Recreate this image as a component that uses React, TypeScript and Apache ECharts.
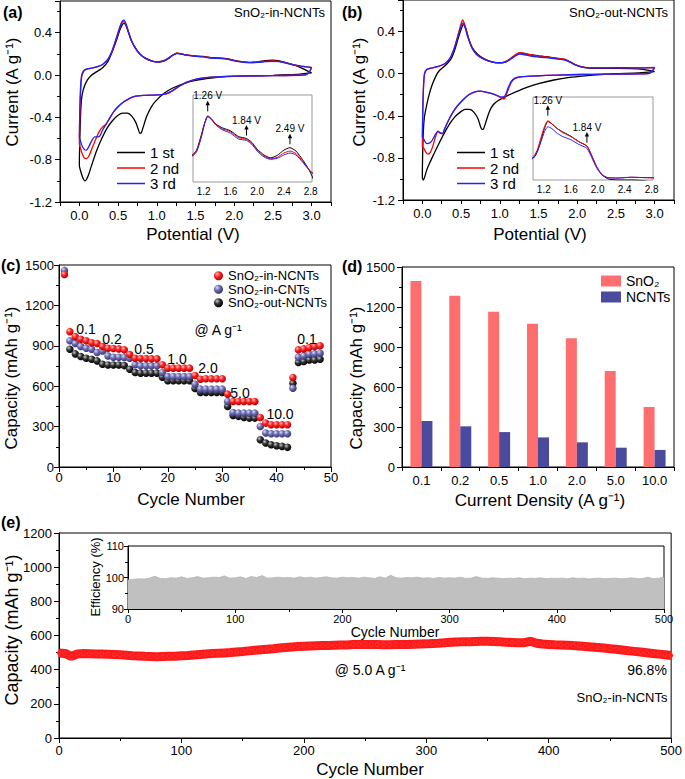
import React, { useEffect, useRef } from "react";
import * as echarts from "echarts";

const FONT = '"Liberation Sans", Arial, Helvetica, sans-serif';

// ---------- (a) CV curves, SnO2-in-NCNTs: [potential (V), current (A/g)] ----------
const cvA1st: number[][] = [
  [3.0, 0.02], [2.8, 0.005], [2.5, -0.003], [2.2, -0.008], [1.9, -0.015], [1.7, -0.028], [1.5, -0.05],
  [1.35, -0.08], [1.2, -0.125], [1.1, -0.17], [1.0, -0.235], [0.93, -0.3], [0.87, -0.39], [0.83, -0.48],
  [0.8, -0.545], [0.78, -0.55], [0.76, -0.51], [0.73, -0.45], [0.68, -0.39], [0.62, -0.36], [0.56, -0.36],
  [0.5, -0.38], [0.43, -0.43], [0.36, -0.5], [0.29, -0.6], [0.22, -0.72], [0.16, -0.85], [0.12, -0.94],
  [0.09, -0.99], [0.07, -1.0], [0.05, -0.98], [0.03, -0.94], [0.01, -0.89], [0.0, -0.86],
  [0.01, -0.5], [0.025, -0.25], [0.05, -0.14], [0.1, -0.05], [0.16, 0.0], [0.22, 0.03], [0.3, 0.07],
  [0.37, 0.13], [0.43, 0.23], [0.48, 0.33], [0.52, 0.42], [0.55, 0.47], [0.575, 0.49], [0.6, 0.47],
  [0.63, 0.41], [0.67, 0.33], [0.72, 0.26], [0.78, 0.2], [0.85, 0.16], [0.93, 0.135], [1.0, 0.125],
  [1.05, 0.128], [1.1, 0.138], [1.16, 0.165], [1.21, 0.19], [1.26, 0.206], [1.31, 0.201], [1.38, 0.19],
  [1.48, 0.182], [1.6, 0.176], [1.72, 0.164], [1.84, 0.16], [1.92, 0.152], [2.0, 0.138], [2.1, 0.126],
  [2.2, 0.12], [2.3, 0.125], [2.4, 0.136], [2.49, 0.141], [2.58, 0.134], [2.68, 0.116], [2.78, 0.094],
  [2.86, 0.07], [2.93, 0.045], [3.0, 0.02],
];
const cvA2nd: number[][] = [
  [3.0, 0.07], [2.97, 0.03], [2.93, 0.005], [2.8, -0.002], [2.5, -0.005], [2.2, -0.008], [1.9, -0.012],
  [1.7, -0.02], [1.5, -0.04], [1.38, -0.07], [1.28, -0.11], [1.2, -0.15], [1.12, -0.178], [1.03, -0.187],
  [0.93, -0.19], [0.83, -0.193], [0.73, -0.2], [0.65, -0.22], [0.57, -0.255], [0.5, -0.3], [0.44, -0.35],
  [0.39, -0.41], [0.34, -0.47], [0.3, -0.49], [0.26, -0.53], [0.21, -0.61], [0.16, -0.7], [0.12, -0.77],
  [0.09, -0.79], [0.06, -0.78], [0.03, -0.73], [0.01, -0.68], [0.0, -0.65],
  [0.005, -0.42], [0.015, -0.18], [0.03, -0.02], [0.06, 0.04], [0.1, 0.055], [0.16, 0.065], [0.22, 0.075],
  [0.3, 0.1], [0.37, 0.15], [0.43, 0.24], [0.48, 0.35], [0.52, 0.44], [0.55, 0.495], [0.575, 0.51],
  [0.6, 0.48], [0.63, 0.42], [0.67, 0.33], [0.72, 0.26], [0.78, 0.2], [0.85, 0.16], [0.93, 0.135],
  [1.0, 0.125], [1.05, 0.127], [1.1, 0.137], [1.16, 0.163], [1.21, 0.19], [1.26, 0.207], [1.31, 0.202],
  [1.38, 0.19], [1.48, 0.18], [1.6, 0.174], [1.72, 0.162], [1.84, 0.158], [1.92, 0.15], [2.0, 0.136],
  [2.1, 0.124], [2.2, 0.118], [2.3, 0.121], [2.4, 0.13], [2.49, 0.134], [2.58, 0.129], [2.68, 0.113],
  [2.78, 0.095], [2.86, 0.085], [2.93, 0.078], [3.0, 0.07],
];
const cvA3rd: number[][] = [
  [3.0, 0.072], [2.97, 0.03], [2.93, 0.005], [2.8, -0.002], [2.5, -0.005], [2.2, -0.008], [1.9, -0.012],
  [1.7, -0.02], [1.5, -0.04], [1.38, -0.07], [1.28, -0.11], [1.2, -0.15], [1.12, -0.178], [1.03, -0.187],
  [0.93, -0.19], [0.83, -0.193], [0.73, -0.2], [0.65, -0.22], [0.57, -0.255], [0.5, -0.3], [0.44, -0.35],
  [0.39, -0.41], [0.34, -0.47], [0.3, -0.52], [0.27, -0.57], [0.24, -0.585], [0.2, -0.585], [0.16, -0.62],
  [0.12, -0.68], [0.09, -0.71], [0.06, -0.7], [0.03, -0.66], [0.01, -0.61], [0.0, -0.59],
  [0.005, -0.35], [0.015, -0.12], [0.03, 0.0], [0.06, 0.045], [0.1, 0.058], [0.16, 0.066], [0.22, 0.077],
  [0.3, 0.1], [0.37, 0.15], [0.43, 0.245], [0.48, 0.355], [0.52, 0.45], [0.55, 0.505], [0.575, 0.52],
  [0.6, 0.49], [0.63, 0.42], [0.67, 0.33], [0.72, 0.26], [0.78, 0.2], [0.85, 0.16], [0.93, 0.133],
  [1.0, 0.123], [1.05, 0.125], [1.1, 0.134], [1.16, 0.16], [1.21, 0.188], [1.26, 0.205], [1.31, 0.2],
  [1.38, 0.188], [1.48, 0.178], [1.6, 0.171], [1.72, 0.159], [1.84, 0.156], [1.92, 0.148], [2.0, 0.134],
  [2.1, 0.122], [2.2, 0.117], [2.3, 0.119], [2.4, 0.126], [2.49, 0.13], [2.58, 0.126], [2.68, 0.111],
  [2.78, 0.094], [2.86, 0.085], [2.93, 0.078], [3.0, 0.072],
];

// ---------- (b) CV curves, SnO2-out-NCNTs ----------
const cvB1st: number[][] = [
  [3.0, 0.02], [2.8, 0.008], [2.5, 0.0], [2.3, -0.008], [2.1, -0.02], [1.9, -0.035], [1.7, -0.06],
  [1.5, -0.095], [1.35, -0.13], [1.2, -0.175], [1.08, -0.215], [0.98, -0.255], [0.91, -0.3], [0.86, -0.37],
  [0.82, -0.46], [0.79, -0.525], [0.77, -0.53], [0.75, -0.5], [0.72, -0.43], [0.67, -0.37], [0.61, -0.34],
  [0.55, -0.34], [0.49, -0.365], [0.42, -0.41], [0.35, -0.48], [0.28, -0.57], [0.21, -0.67], [0.15, -0.76],
  [0.1, -0.84], [0.07, -0.89], [0.05, -0.93], [0.03, -0.98], [0.015, -1.01], [0.0, -0.99],
  [0.01, -0.6], [0.025, -0.42], [0.05, -0.32], [0.08, -0.22], [0.12, -0.12], [0.17, -0.03], [0.22, 0.03],
  [0.3, 0.08], [0.37, 0.14], [0.42, 0.23], [0.46, 0.33], [0.5, 0.42], [0.53, 0.47], [0.56, 0.43],
  [0.6, 0.33], [0.65, 0.24], [0.72, 0.18], [0.8, 0.14], [0.9, 0.112], [1.0, 0.103], [1.07, 0.11],
  [1.14, 0.14], [1.2, 0.175], [1.26, 0.198], [1.32, 0.192], [1.4, 0.18], [1.5, 0.17], [1.6, 0.161],
  [1.72, 0.147], [1.84, 0.136], [1.91, 0.112], [1.98, 0.085], [2.06, 0.064], [2.15, 0.053], [2.3, 0.05],
  [2.5, 0.05], [2.7, 0.048], [2.85, 0.04], [3.0, 0.02],
];
const cvB2nd: number[][] = [
  [3.0, 0.055], [2.97, 0.025], [2.93, 0.003], [2.8, -0.002], [2.5, -0.004], [2.2, -0.006], [1.9, -0.01],
  [1.6, -0.017], [1.4, -0.023], [1.28, -0.03], [1.2, -0.045], [1.15, -0.08], [1.11, -0.15], [1.08, -0.21],
  [1.06, -0.24], [1.03, -0.235], [0.97, -0.21], [0.9, -0.19], [0.82, -0.175], [0.74, -0.165], [0.67, -0.175],
  [0.6, -0.2], [0.53, -0.245], [0.46, -0.3], [0.4, -0.36], [0.34, -0.44], [0.29, -0.52], [0.26, -0.57],
  [0.23, -0.565], [0.2, -0.55], [0.17, -0.6], [0.13, -0.7], [0.1, -0.75], [0.07, -0.765], [0.04, -0.74],
  [0.02, -0.71], [0.0, -0.69],
  [0.005, -0.4], [0.015, -0.13], [0.03, 0.0], [0.06, 0.04], [0.1, 0.05], [0.16, 0.06], [0.22, 0.072],
  [0.3, 0.1], [0.36, 0.15], [0.41, 0.24], [0.45, 0.34], [0.49, 0.45], [0.52, 0.51], [0.55, 0.46],
  [0.59, 0.35], [0.64, 0.25], [0.7, 0.185], [0.78, 0.145], [0.87, 0.118], [0.95, 0.105], [1.03, 0.106],
  [1.1, 0.125], [1.16, 0.158], [1.21, 0.185], [1.26, 0.2], [1.32, 0.192], [1.4, 0.18], [1.48, 0.17],
  [1.6, 0.16], [1.72, 0.147], [1.84, 0.136], [1.91, 0.112], [1.98, 0.085], [2.06, 0.064], [2.15, 0.056],
  [2.3, 0.055], [2.5, 0.057], [2.7, 0.056], [2.85, 0.055], [3.0, 0.055],
];
const cvB3rd: number[][] = [
  [3.0, 0.06], [2.97, 0.025], [2.93, 0.003], [2.8, -0.002], [2.5, -0.004], [2.2, -0.006], [1.9, -0.01],
  [1.6, -0.017], [1.4, -0.023], [1.28, -0.028], [1.2, -0.04], [1.15, -0.07], [1.11, -0.13], [1.08, -0.19],
  [1.05, -0.22], [1.01, -0.22], [0.96, -0.205], [0.9, -0.19], [0.82, -0.175], [0.74, -0.165], [0.67, -0.175],
  [0.6, -0.2], [0.53, -0.245], [0.46, -0.3], [0.4, -0.36], [0.34, -0.44], [0.29, -0.52], [0.26, -0.57],
  [0.23, -0.56], [0.2, -0.545], [0.17, -0.575], [0.13, -0.63], [0.1, -0.655], [0.06, -0.665], [0.03, -0.64],
  [0.01, -0.61], [0.0, -0.6],
  [0.005, -0.36], [0.015, -0.11], [0.03, 0.01], [0.06, 0.042], [0.1, 0.052], [0.16, 0.062], [0.22, 0.073],
  [0.3, 0.1], [0.36, 0.15], [0.41, 0.235], [0.45, 0.33], [0.49, 0.43], [0.52, 0.48], [0.55, 0.44],
  [0.59, 0.34], [0.64, 0.245], [0.7, 0.182], [0.78, 0.143], [0.87, 0.116], [0.95, 0.104], [1.03, 0.104],
  [1.1, 0.12], [1.16, 0.148], [1.21, 0.172], [1.26, 0.185], [1.32, 0.18], [1.4, 0.168], [1.48, 0.16],
  [1.6, 0.152], [1.72, 0.14], [1.84, 0.13], [1.91, 0.107], [1.98, 0.082], [2.06, 0.063], [2.15, 0.056],
  [2.3, 0.055], [2.5, 0.057], [2.7, 0.056], [2.85, 0.056], [3.0, 0.06],
];
const cvNames = ["1 st", "2 nd", "3 rd"];
const cvColors = ["#000000", "#ff0000", "#2222ff"];
const peaksA: [number, number, string][] = [[1.26, 0.21, "1.26 V"], [1.84, 0.16, "1.84 V"], [2.49, 0.142, "2.49 V"]];
const peaksB: [number, number, string][] = [[1.26, 0.205, "1.26 V"], [1.84, 0.137, "1.84 V"]];

// ---------- (c) rate capability ----------
const rateNames = ["SnO₂-in-NCNTs", "SnO₂-in-CNTs", "SnO₂-out-NCNTs"];
const rateInNCNTs = [1430, 1005, 968, 949, 937, 922, 917, 895, 882, 880, 877, 870, 835, 808, 806, 805, 803, 803,
  759, 734, 734, 734, 734, 734, 680, 652, 655, 655, 655, 655, 541, 487, 487, 487, 487, 487,
  368, 326, 314, 314, 314, 314, 665, 870, 877, 887, 894, 900];
const rateInCNTs = [1460, 937, 917, 895, 882, 875, 850, 862, 825, 815, 815, 813, 808, 759, 751, 751, 751, 751,
  702, 672, 672, 672, 672, 672, 615, 578, 578, 578, 578, 578, 487, 405, 400, 400, 400, 400,
  301, 252, 247, 247, 247, 247, 585, 815, 825, 838, 840, 845];
const rateOutNCNTs: (number | null)[] = [null, 875, 840, 820, 808, 800, 788, 763, 758, 758, 758, 753, 726, 702, 697, 697, 697, 697,
  667, 640, 640, 640, 640, 640, 583, 553, 553, 553, 553, 553, 450, 383, 376, 368, 363, 363,
  202, 178, 165, 158, 153, 146, 622, 776, 783, 795, 795, 800];
const rateStepLabels = ["0.1", "0.2", "0.5", "1.0", "2.0", "5.0", "10.0", "0.1"];

// ---------- (d) capacity contribution ----------
const densities = ["0.1", "0.2", "0.5", "1.0", "2.0", "5.0", "10.0"];
const capSnO2 = [1395, 1285, 1165, 1075, 965, 720, 450];
const capNCNTs = [345, 305, 262, 222, 185, 145, 128];

// ---------- (e) long cycling at 5.0 A/g (sampled every 5 cycles) ----------
const longCapacity = [
  498, 495, 478, 492, 494, 493, 492, 491, 490, 489,
  488, 485, 482, 480, 478, 477, 476, 477, 478, 479,
  481, 483, 486, 489, 492, 494, 496, 498, 500, 503,
  506, 510, 514, 517, 520, 523, 527, 530, 533, 535,
  537, 539, 540, 541, 542, 543, 544, 545, 547, 548,
  548, 547, 547, 546, 546, 547, 548, 548, 549, 550,
  551, 553, 555, 558, 560, 562, 563, 564, 565, 566,
  566, 565, 563, 561, 559, 557, 558, 566, 555, 550,
  548, 546, 545, 543, 541, 539, 536, 533, 530, 527,
  523, 519, 515, 511, 507, 503, 499, 495, 491, 487,
  483,
];
const efficiency = [
  99.2, 99.4, 99.6, 99.5, 99.8, 100.4, 99.7, 99.6, 99.9, 99.8,
  100.2, 99.7, 99.9, 100.3, 99.8, 99.9, 100.1, 100.0, 100.5, 99.8,
  99.9, 100.2, 99.7, 100.3, 100.0, 100.6, 99.8, 99.9, 100.1, 99.9,
  100.0, 99.8, 100.2, 99.9, 100.1, 99.8, 100.0, 100.2, 99.9, 99.8,
  100.1, 99.9, 100.0, 99.8, 100.1, 99.9, 99.7, 100.2, 99.8, 100.7,
  99.9, 99.8, 100.0, 99.9, 100.1, 99.8, 99.9, 99.7, 100.0, 99.8,
  99.9, 99.8, 100.1, 99.7, 99.8, 100.3, 99.8, 99.7, 99.9, 99.8,
  99.6, 99.8, 99.7, 99.9, 99.6, 99.8, 99.7, 99.9, 99.6, 99.8,
  99.7, 99.8, 99.6, 99.9, 99.7, 99.8, 99.5, 99.7, 99.8, 99.6,
  99.7, 99.8, 99.6, 99.7, 99.9, 99.6, 99.7, 100.1, 99.6, 99.8,
  100.0,
];
const LONG_STEP = 5;

// ---------------------------------------------------------------
const near = (v: number, step: number, base = 0) => {
  const k = (v - base) / step;
  return Math.abs(k - Math.round(k)) < 1e-4;
};
const plain = (v: number) => String(Math.round(v));

const lbl = (size: number, margin: number, extra: any = {}) => ({
  color: "#000", fontSize: size, fontFamily: FONT, margin, ...extra,
});

const baseAxis = (gridIndex: number, extra: any = {}) => ({
  gridIndex,
  type: "value",
  axisLine: { show: true, onZero: false, lineStyle: { color: "#000", width: 1 } },
  axisTick: { show: true, inside: false, length: 5, lineStyle: { color: "#000", width: 1 } },
  minorTick: { show: true, splitNumber: 2, length: 3, lineStyle: { color: "#000", width: 1 } },
  splitLine: { show: false },
  minorSplitLine: { show: false },
  axisLabel: lbl(13, 7, { formatter: plain }),
  ...extra,
});

const cvXAxis = (gi: number) =>
  baseAxis(gi, {
    min: -0.25, max: 3.25, interval: 0.25,
    minorTick: { show: false },
    axisTick: { show: true, length: 4, lineStyle: { color: "#000" } },
    axisLabel: lbl(13, 7, {
      formatter: (v: number) => (v > -0.01 && v < 3.01 && near(v, 0.5) ? v.toFixed(1) : ""),
    }),
  });
const cvYAxis = (gi: number) =>
  baseAxis(gi, {
    min: -1.2, max: 0.7, interval: 0.4,
    axisLabel: lbl(13, 8, {
      formatter: (v: number) => (v < 0.6 && near(v, 0.4) ? (Math.abs(v) < 1e-9 ? "0.0" : v.toFixed(1)) : ""),
    }),
  });
const insetXAxis = (gi: number) => ({
  gridIndex: gi, type: "value", min: 1.04, max: 2.82, interval: 0.02,
  axisLine: { show: false }, axisTick: { show: false }, splitLine: { show: false },
  axisLabel: lbl(10, 4, {
    formatter: (v: number) => (v > 1.1 && v < 2.81 && near(v, 0.4, 1.2) ? v.toFixed(1) : ""),
  }),
});
const insetYAxis = (gi: number, min: number, max: number) => ({
  gridIndex: gi, type: "value", min, max, show: false, splitLine: { show: false },
});

const radial = (hi: string, mid: string, lo: string) => ({
  type: "radial", x: 0.35, y: 0.32, r: 0.7,
  colorStops: [{ offset: 0, color: hi }, { offset: 0.45, color: mid }, { offset: 1, color: lo }],
});
const rateStyles = [
  radial("#ffc0c0", "#ff2222", "#b00000"),
  radial("#dcdcf2", "#6d6db6", "#35356e"),
  radial("#c8c8c8", "#333333", "#000000"),
];

function cvSeries(curves: number[][][], gMain: number, gInset: number, tag: string) {
  const out: any[] = [];
  curves.forEach((d, i) => {
    out.push({
      name: cvNames[i], type: "line", xAxisIndex: gMain, yAxisIndex: gMain, data: d,
      symbol: "none", showSymbol: false, smooth: 0.2, clip: true,
      lineStyle: { color: cvColors[i], width: 1.3 }, itemStyle: { color: cvColors[i] }, z: 2 + i,
    });
  });
  curves.forEach((d, i) => {
    out.push({
      name: tag + "-inset-" + i, type: "line", xAxisIndex: gInset, yAxisIndex: gInset, data: d,
      symbol: "none", showSymbol: false, smooth: 0.2, clip: true,
      lineStyle: { color: cvColors[i], width: 1 }, itemStyle: { color: cvColors[i] }, z: 10 + i,
    });
  });
  return out;
}

function buildOption(): any {
  const grids = [
    { left: 60, top: 1, width: 271, height: 201 },
    { left: 193, top: 95, width: 119, height: 87, borderColor: "#999", backgroundColor: "#fff" },
    { left: 403, top: 0, width: 271, height: 200 },
    { left: 533, top: 97, width: 120, height: 83, borderColor: "#999", backgroundColor: "#fff" },
    { left: 59, top: 265, width: 272, height: 202 },
    { left: 402, top: 267, width: 272, height: 200 },
    { left: 59, top: 533, width: 615, height: 205 },
    { left: 128, top: 546, width: 536, height: 63, backgroundColor: "#fff" },
  ].map((g) => ({ show: true, borderColor: "#000", borderWidth: 1, backgroundColor: "transparent", containLabel: false, ...g }));

  const xAxis = [
    cvXAxis(0),
    insetXAxis(1),
    cvXAxis(2),
    insetXAxis(3),
    baseAxis(4, { min: 0, max: 50, interval: 10, axisLabel: lbl(13, 4, { formatter: plain }) }),
    {
      gridIndex: 5, type: "category", data: densities, boundaryGap: true,
      axisLine: { show: true, onZero: false, lineStyle: { color: "#000" } },
      axisTick: { show: true, length: 4, lineStyle: { color: "#000" } },
      splitLine: { show: false },
      axisLabel: lbl(13, 7),
    },
    baseAxis(6, { min: 0, max: 500, interval: 100, axisLabel: lbl(13, 6, { formatter: plain }) }),
    baseAxis(7, {
      min: 0, max: 500, interval: 100,
      axisTick: { show: true, length: 4, lineStyle: { color: "#000" } },
      minorTick: { show: true, splitNumber: 2, length: 3, lineStyle: { color: "#000" } },
      axisLabel: lbl(11, 4, { formatter: plain }),
    }),
  ];
  const yAxis = [
    cvYAxis(0),
    insetYAxis(1, 0.07, 0.25),
    cvYAxis(2),
    insetYAxis(3, 0.05, 0.26),
    baseAxis(4, { min: 0, max: 1500, interval: 300, axisLabel: lbl(13, 5, { formatter: plain }) }),
    baseAxis(5, { min: 0, max: 1500, interval: 300, axisLabel: lbl(13, 7, { formatter: plain }) }),
    baseAxis(6, { min: 0, max: 1200, interval: 200, axisLabel: lbl(13, 7, { formatter: plain }) }),
    baseAxis(7, {
      min: 90, max: 110, interval: 10,
      axisTick: { show: true, length: 4, lineStyle: { color: "#000" } },
      minorTick: { show: true, splitNumber: 2, length: 3, lineStyle: { color: "#000" } },
      axisLabel: lbl(11, 4, { formatter: plain }),
    }),
  ];

  const cycleIdx = (arr: (number | null)[]) =>
    arr.map((v, i) => [i + 1, v]).filter((p) => p[1] !== null);

  const rateData = [rateInNCNTs, rateInCNTs, rateOutNCNTs];
  const rateSeries = [2, 1, 0].map((k) => ({
    name: rateNames[k], type: "scatter", xAxisIndex: 4, yAxisIndex: 4,
    data: cycleIdx(rateData[k]), symbol: "circle", symbolSize: 7.5,
    itemStyle: { color: rateStyles[k] as any, opacity: 1 }, z: 5 + (2 - k),
  }));

  const series: any[] = [
    ...cvSeries([cvA1st, cvA2nd, cvA3rd], 0, 1, "a"),
    ...cvSeries([cvB1st, cvB2nd, cvB3rd], 2, 3, "b"),
    ...rateSeries,
    {
      name: "SnO₂", type: "bar", xAxisIndex: 5, yAxisIndex: 5, data: capSnO2,
      barWidth: 11, barGap: "0%", itemStyle: { color: "#ff6e6e" },
    },
    {
      name: "NCNTs", type: "bar", xAxisIndex: 5, yAxisIndex: 5, data: capNCNTs,
      barWidth: 11, barGap: "0%", itemStyle: { color: "#4b4b9e" },
    },
    {
      name: "capacity-long", type: "line", xAxisIndex: 6, yAxisIndex: 6,
      data: longCapacity.map((v, i) => [i * LONG_STEP, v]),
      symbol: "circle", symbolSize: 4, showSymbol: true,
      lineStyle: { color: "#ff1a1a", width: 9 },
      itemStyle: { color: "#ff1a1a", borderColor: "#ff4d4d", borderWidth: 0.5 },
    },
    {
      name: "efficiency", type: "line", xAxisIndex: 7, yAxisIndex: 7,
      data: efficiency.map((v, i) => [i * LONG_STEP, v]),
      symbol: "none", showSymbol: false,
      lineStyle: { color: "#b4b4b4", width: 0.8 },
      areaStyle: { color: "#c0c0c0", opacity: 1, origin: "start" },
      z: 3,
    },
  ];

  const legendText = (size: number, lh: number) => ({ color: "#000", fontSize: size, fontFamily: FONT, lineHeight: lh });
  const legend = [
    { data: cvNames, left: 117, top: 145, orient: "vertical", padding: 0, icon: "rect", itemWidth: 28, itemHeight: 1.5, itemGap: 0.5, textStyle: legendText(15, 14.5), selectedMode: false },
    { data: cvNames, left: 457, top: 145, orient: "vertical", padding: 0, icon: "rect", itemWidth: 28, itemHeight: 1.5, itemGap: 0.5, textStyle: legendText(15, 14.5), selectedMode: false },
    { data: rateNames, left: 214, top: 269, orient: "vertical", padding: 0, itemWidth: 9, itemHeight: 9, itemGap: 0, icon: "circle", textStyle: legendText(13, 13.5), selectedMode: false },
    { data: ["SnO₂", "NCNTs"], left: 601, top: 274, orient: "vertical", padding: 0, itemWidth: 20, itemHeight: 11, itemGap: 2, icon: "rect", textStyle: legendText(14, 14), selectedMode: false },
  ];

  return {
    animation: false,
    backgroundColor: "#fff",
    textStyle: { fontFamily: FONT },
    grid: grids,
    xAxis,
    yAxis,
    legend,
    series,
  };
}

const txt = (x: number, y: number, text: string, size = 13, align = "center", opts: any = {}) => ({
  type: "text", x, y, z: 100, silent: true, rotation: opts.rot || 0,
  style: {
    text, fill: "#000", fontSize: size, fontFamily: FONT, fontWeight: opts.bold ? "bold" : "normal",
    textAlign: align, textVerticalAlign: "middle",
  },
});

function peakMarks(chart: any, axisIdx: number, marks: [number, number, string][]) {
  const out: any[] = [];
  marks.forEach(([v, i, label]) => {
    const p = chart.convertToPixel({ xAxisIndex: axisIdx, yAxisIndex: axisIdx }, [v, i]);
    if (!p) return;
    const [px, py] = p;
    out.push({ type: "line", z: 100, silent: true, shape: { x1: px, y1: py - 3, x2: px, y2: py - 10 }, style: { stroke: "#000", lineWidth: 1 } });
    out.push({ type: "polygon", z: 100, silent: true, shape: { points: [[px - 2.2, py - 9], [px + 2.2, py - 9], [px, py - 13.5]] }, style: { fill: "#000" } });
    out.push(txt(px, py - 18.5, label, 10));
  });
  return out;
}

function buildGraphics(chart: any) {
  const rot = { rot: Math.PI / 2 };
  const g: any[] = [
    txt(3, 12, "(a)", 16, "left", { bold: true }),
    txt(325, 12, "SnO₂-in-NCNTs", 13, "right"),
    txt(342, 12, "(b)", 16, "left", { bold: true }),
    txt(668, 12, "SnO₂-out-NCNTs", 13, "right"),
    txt(12, 92, "Current (A g⁻¹)", 17, "center", rot),
    txt(359, 92, "Current (A g⁻¹)", 17, "center", rot),
    txt(193, 234, "Potential (V)", 17),
    txt(540, 234, "Potential (V)", 17),
    txt(1, 265, "(c)", 16, "left", { bold: true }),
    txt(342, 266, "(d)", 16, "left", { bold: true }),
    txt(11, 378, "Capacity (mAh g⁻¹)", 17, "center", rot),
    txt(356, 378, "Capacity (mAh g⁻¹)", 17, "center", rot),
    txt(191, 499, "Cycle Number", 17),
    txt(540, 500, "Current Density (A g⁻¹)", 17),
    txt(218, 330, "@ A g⁻¹", 14),
    txt(86, 329, rateStepLabels[0], 14),
    txt(112, 339, rateStepLabels[1], 14),
    txt(144, 349, rateStepLabels[2], 14),
    txt(177, 359, rateStepLabels[3], 14),
    txt(208, 368, rateStepLabels[4], 14),
    txt(240, 393, rateStepLabels[5], 14),
    txt(280, 414, rateStepLabels[6], 14),
    txt(307, 339, rateStepLabels[7], 14),
    txt(1, 522, "(e)", 16, "left", { bold: true }),
    txt(12, 630, "Capacity (mAh g⁻¹)", 18, "center", rot),
    txt(370, 769, "Cycle Number", 17),
    txt(95, 577, "Efficiency (%)", 13, "center", rot),
    txt(395, 632, "Cycle Number", 14),
    txt(370, 670, "@ 5.0 A g⁻¹", 14),
    txt(647, 670, "96.8%", 14),
    txt(622, 697, "SnO₂-in-NCNTs", 13),
  ];
  return [...g, ...peakMarks(chart, 1, peaksA), ...peakMarks(chart, 3, peaksB)];
}

export default function App() {
  const ref = useRef<HTMLDivElement>(null);
  useEffect(() => {
    document.body.style.margin = "0";
    const chart = echarts.init(ref.current as HTMLDivElement, null, { renderer: "svg" });
    chart.setOption(buildOption());
    chart.setOption({ graphic: buildGraphics(chart) });
    return () => chart.dispose();
  }, []);
  return <div ref={ref} style={{ width: 685, height: 779 }} />;
}
